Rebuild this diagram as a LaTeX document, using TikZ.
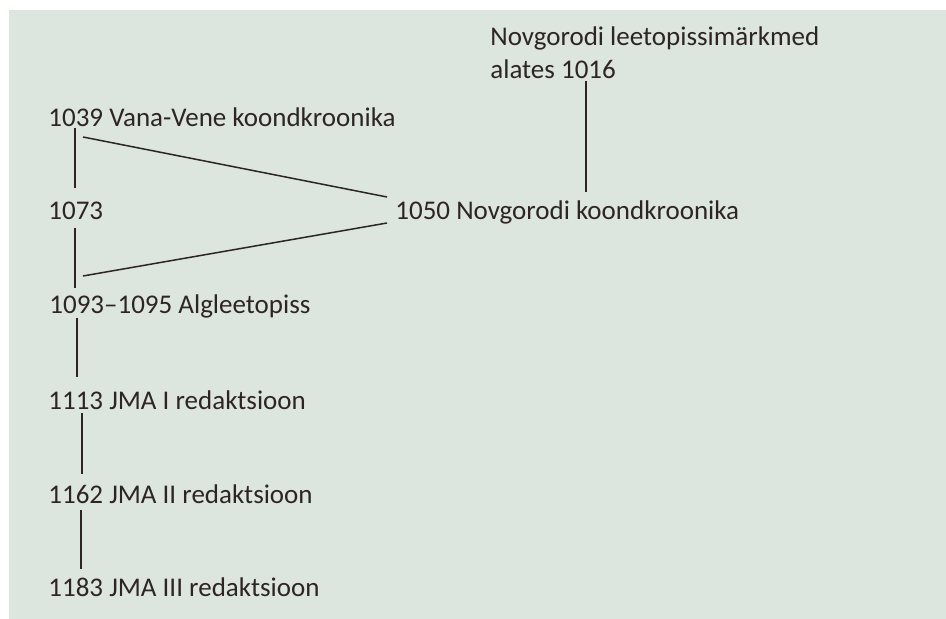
\documentclass[tikz,border=0pt]{standalone}
\usepackage{fontspec}
\setmainfont{Carlito}
\usetikzlibrary{positioning}

\definecolor{boxbg}{HTML}{DCE6DE}
\definecolor{ink}{HTML}{2E2522}

\begin{document}
\begin{tikzpicture}[
            x = 0.5pt, y = -0.5pt, % one unit is one pixel, y goes down
            every node/.style = {inner sep = 0pt, anchor = base west, text = ink,
                font = \fontsize{13.5}{16.5}\selectfont},
            link/.style = {draw = ink, line width = 0.75pt}
        ]

        \useasboundingbox (0,0) rectangle (946,619);
        \fill[boxbg] (9,10) rectangle (946,619);

        \node[align = left] (n1016) at (490,79) {Novgorodi leetopissimärkmed\\alates 1016};
        \node (n1039) at (48,127) {1039 Vana-Vene koondkroonika};
        \node (n1073) at (48,220) {1073};
        \node (n1050) at (395,220) {1050 Novgorodi koondkroonika};
        \node (n1093) at (49,314) {1093--1095 Algleetopiss};
        \node (n1113) at (48,409) {1113 JMA I redaktsioon};
        \node (n1162) at (48,503) {1162 JMA II redaktsioon};
        \node (n1183) at (48,596) {1183 JMA III redaktsioon};

        % the chronicle lines
        \path[link] ([shift={(96,2)}]n1016.base west) -- ([shift={(191,-28)}]n1050.base west);
        \path[link] ([shift={(27,1)}]n1039.base west) -- ([shift={(27,-32)}]n1073.base west);
        \path[link] ([shift={(35,10)}]n1039.base west) -- ([shift={(-8,-23)}]n1050.base west);
        \path[link] ([shift={(27,8)}]n1073.base west) -- ([shift={(26,-26)}]n1093.base west);
        \path[link] ([shift={(-8,3)}]n1050.base west) -- ([shift={(34,-38)}]n1093.base west);
        \path[link] ([shift={(28,4)}]n1093.base west) -- ([shift={(29,-32)}]n1113.base west);
        \path[link] ([shift={(34,4)}]n1113.base west) -- ([shift={(34,-29)}]n1162.base west);
        \path[link] ([shift={(33,7)}]n1162.base west) -- ([shift={(33,-27)}]n1183.base west);
    \end{tikzpicture}
\end{document}
